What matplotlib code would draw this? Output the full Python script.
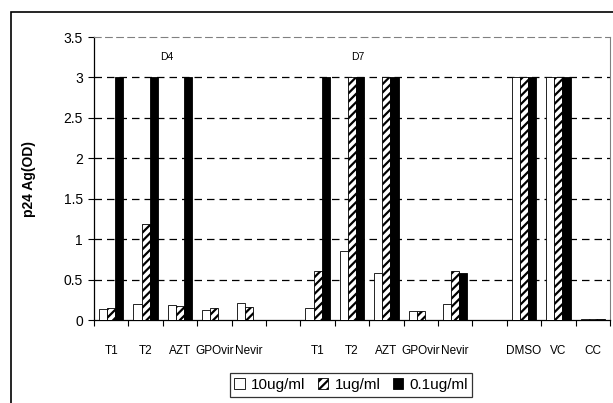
import numpy as np
import matplotlib
matplotlib.use('Agg')
import matplotlib.pyplot as plt
from matplotlib.patches import Rectangle

plt.rcParams['font.family'] = ['Liberation Sans', 'DejaVu Sans']
plt.rcParams['hatch.linewidth'] = 1.6

categories = ['T1', 'T2', 'AZT', 'GPOvir', 'Nevir', '',
              'T1', 'T2', 'AZT', 'GPOvir', 'Nevir', '',
              'DMSO', 'VC', 'CC']
conc_10 = [0.14, 0.20, 0.19, 0.12, 0.21, 0,
           0.15, 0.85, 0.58, 0.11, 0.20, 0,
           3.0, 3.0, 0.01]
conc_1 = [0.15, 1.19, 0.17, 0.15, 0.16, 0,
          0.60, 3.0, 3.0, 0.11, 0.60, 0,
          3.0, 3.0, 0.01]
conc_01 = [3.0, 3.0, 3.0, 0, 0, 0,
           3.0, 3.0, 3.0, 0, 0.58, 0,
           3.0, 3.0, 0.01]
series_labels = ['10ug/ml', '1ug/ml', '0.1ug/ml']

fig = plt.figure(figsize=(6.13, 4.03), dpi=100)
ax = fig.add_axes([94 / 613, 1 - 320 / 403, 516 / 613, 283 / 403])

# outer chart frame
fig.patches.append(Rectangle((10.5 / 613, -0.05), 1.1, 1 - 12 / 403 + 0.05,
                             transform=fig.transFigure, fill=False,
                             edgecolor='black', linewidth=1.2))

x = np.arange(len(categories))
w = 0.235
ax.bar(x - w, conc_10, w, color='white', edgecolor='black', linewidth=0.6,
       label=series_labels[0], zorder=3)
ax.bar(x, conc_1, w, color='white', edgecolor='black', linewidth=0.6,
       hatch='////', label=series_labels[1], zorder=3)
ax.bar(x + w, conc_01, w, color='black', edgecolor='black', linewidth=0.6,
       label=series_labels[2], zorder=3)

ax.set_xlim(-0.5, len(categories) - 0.5)
ax.set_ylim(0, 3.5)
ax.set_yticks(np.arange(0, 3.51, 0.5))
ax.set_yticklabels(['0', '0.5', '1', '1.5', '2', '2.5', '3', '3.5'], fontsize=10)
ax.set_xticks(x)
ax.set_xticklabels(categories, fontsize=8.5)
ax.tick_params(axis='x', length=0, pad=18)
ax.set_xticks(np.arange(-0.5, len(categories), 1), minor=True)
ax.tick_params(axis='x', which='minor', length=4, width=0.8)
ax.tick_params(axis='y', length=4, width=0.8, pad=4)

for yv in np.arange(0.5, 3.01, 0.5):
    ax.axhline(yv, color='black', linestyle=(0, (6, 4)), linewidth=0.9, zorder=1)

ax.spines['top'].set_color('gray')
ax.spines['top'].set_linestyle((0, (6, 4)))
ax.spines['right'].set_color('gray')
ax.spines['left'].set_linewidth(0.9)
ax.spines['bottom'].set_linewidth(0.9)

ax.text(1.62, 3.25, 'D4', fontsize=7.5, ha='center', va='center')
ax.text(7.18, 3.25, 'D7', fontsize=7.5, ha='center', va='center')

ax.set_ylabel('p24 Ag(OD)', fontsize=10, fontweight='bold', labelpad=20)

leg = fig.legend(loc='center', bbox_to_anchor=(351 / 613, 1 - 385 / 403),
                 ncol=3, fontsize=11, frameon=True, fancybox=False,
                 handlelength=0.7, handleheight=0.7, handletextpad=0.4,
                 columnspacing=0.8, borderpad=0.3, borderaxespad=0)
leg.get_frame().set_edgecolor('black')
leg.get_frame().set_linewidth(0.9)

fig.savefig('out.png', dpi=100)
